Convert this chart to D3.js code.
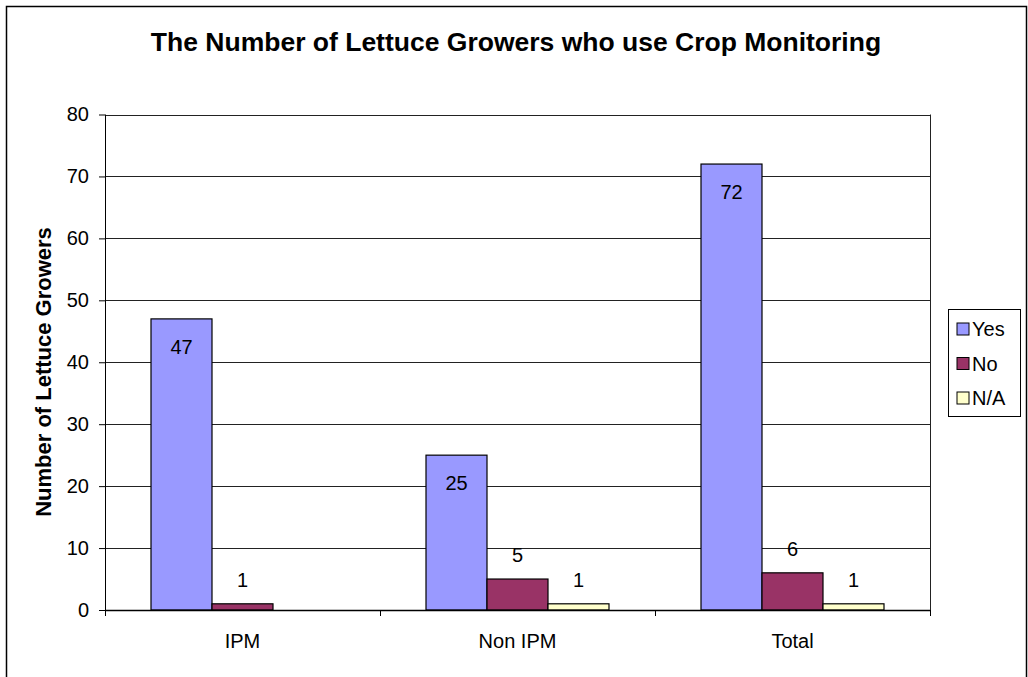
<!DOCTYPE html>
<html>
<head>
<meta charset="utf-8">
<script src="https://cdn.jsdelivr.net/npm/d3@7"></script>
<style>
  body { margin: 0; background: #fff; }
  text { font-family: Arial, "Liberation Sans", sans-serif; fill: #000; }
</style>
</head>
<body>
<div id="chart"></div>
<script>
var categories = ["IPM", "Non IPM", "Total"];
var seriesNames = ["Yes", "No", "N/A"];
var yesValues = [47, 25, 72];
var noValues = [1, 5, 6];
var naValues = [null, 1, 1];
var yTicks = [0, 10, 20, 30, 40, 50, 60, 70, 80];
var colors = ["#9999FF", "#993366", "#FFFFCC"];

var width = 1028, height = 677;
var plotLeft = 105, plotRight = 930, plotTop = 114.5, plotBottom = 610;

var svg = d3.select("#chart").append("svg")
    .attr("width", width)
    .attr("height", height);

// outer frame
svg.append("rect")
    .attr("x", 6.5).attr("y", 6.5)
    .attr("width", 1020).attr("height", 680)
    .attr("fill", "#fff").attr("stroke", "#000").attr("stroke-width", 1.5);

svg.append("text")
    .attr("x", 516).attr("y", 51)
    .attr("text-anchor", "middle")
    .style("font-size", "26.5px").style("font-weight", "bold")
    .text("The Number of Lettuce Growers who use Crop Monitoring");

var y = d3.scaleLinear().domain([0, 80]).range([plotBottom, plotTop]);
var x0 = d3.scaleBand().domain(categories).range([plotLeft, plotRight]);
var x1 = d3.scaleBand().domain(seriesNames).range([46, 275 - 46]);

// gridlines
svg.append("g").selectAll("line")
    .data(yTicks.filter(function(d) { return d > 0; }))
    .enter().append("line")
    .attr("x1", plotLeft).attr("x2", plotRight)
    .attr("y1", function(d) { return Math.round(y(d)) + 0.5; })
    .attr("y2", function(d) { return Math.round(y(d)) + 0.5; })
    .attr("stroke", "#222").attr("stroke-width", 1);

// right edge of plot
svg.append("line")
    .attr("x1", plotRight + 0.5).attr("x2", plotRight + 0.5)
    .attr("y1", plotTop).attr("y2", plotBottom)
    .attr("stroke", "#222");

var data = [];
categories.forEach(function(c, i) {
    [yesValues, noValues, naValues].forEach(function(arr, s) {
        if (arr[i] != null) data.push({cat: c, series: seriesNames[s], s: s, value: arr[i]});
    });
});

svg.append("g").selectAll("rect")
    .data(data).enter().append("rect")
    .attr("x", function(d) { return x0(d.cat) + x1(d.series); })
    .attr("y", function(d) { return y(d.value); })
    .attr("width", x1.bandwidth())
    .attr("height", function(d) { return plotBottom - y(d.value); })
    .attr("fill", function(d) { return colors[d.s]; })
    .attr("stroke", "#000").attr("stroke-width", 1.2);

svg.append("g").selectAll("text")
    .data(data).enter().append("text")
    .attr("x", function(d) { return x0(d.cat) + x1(d.series) + x1.bandwidth() / 2; })
    .attr("y", function(d) { return d.s == 0 ? y(d.value) + 28 : y(d.value) - 24; })
    .attr("dy", "0.35em")
    .attr("text-anchor", "middle")
    .style("font-size", "20px")
    .text(function(d) { return d.value; });

// y axis
var yAxis = svg.append("g")
    .attr("transform", "translate(" + plotLeft + ",0)")
    .call(d3.axisLeft(y).tickValues(yTicks).tickSize(6).tickPadding(10));
yAxis.select(".domain").attr("stroke", "#000").attr("d", "M0.5," + plotTop + "V" + (plotBottom + 6));
yAxis.selectAll(".tick line").attr("stroke", "#000");
yAxis.selectAll(".tick text").style("font-size", "20px").style("font-family", "Arial, 'Liberation Sans', sans-serif");

// x axis
svg.append("line")
    .attr("x1", plotLeft).attr("x2", plotRight)
    .attr("y1", plotBottom + 0.5).attr("y2", plotBottom + 0.5)
    .attr("stroke", "#000").attr("stroke-width", 1.5);
svg.append("g").selectAll("line")
    .data(categories.map(function(c) { return x0(c); }).concat([plotRight]))
    .enter().append("line")
    .attr("x1", function(d) { return Math.round(d) + 0.5; })
    .attr("x2", function(d) { return Math.round(d) + 0.5; })
    .attr("y1", plotBottom).attr("y2", plotBottom + 6)
    .attr("stroke", "#000");
svg.append("g").selectAll("text")
    .data(categories).enter().append("text")
    .attr("x", function(d) { return x0(d) + x0.bandwidth() / 2; })
    .attr("y", 648)
    .attr("text-anchor", "middle")
    .style("font-size", "20px")
    .text(function(d) { return d; });

svg.append("text")
    .attr("transform", "translate(43,372) rotate(-90)")
    .attr("text-anchor", "middle")
    .attr("dy", "0.35em")
    .style("font-size", "22px").style("font-weight", "bold")
    .text("Number of Lettuce Growers");

// legend
var legend = svg.append("g");
legend.append("rect")
    .attr("x", 948.5).attr("y", 309.5).attr("width", 72).attr("height", 107)
    .attr("fill", "#fff").attr("stroke", "#000");
var items = legend.selectAll("g.item").data(seriesNames).enter().append("g")
    .attr("transform", function(d, i) { return "translate(957," + (323 + i * 34.5) + ")"; });
items.append("rect")
    .attr("width", 12).attr("height", 12)
    .attr("fill", function(d, i) { return colors[i]; })
    .attr("stroke", "#000");
items.append("text")
    .attr("x", 15).attr("y", 6).attr("dy", "0.35em")
    .style("font-size", "20px")
    .text(function(d) { return d; });
</script>
</body>
</html>
